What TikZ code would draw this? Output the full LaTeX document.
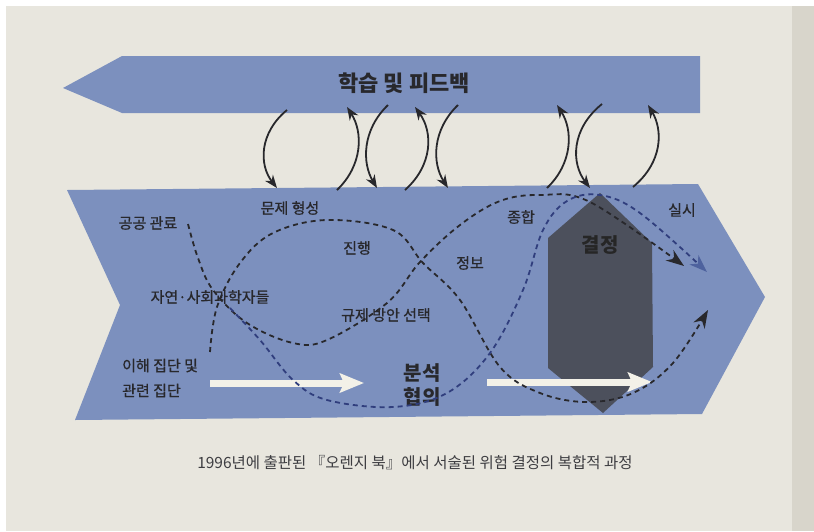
\documentclass[tikz,border=0pt]{standalone}
\usepackage{fontspec}
\setmainfont{Noto Sans CJK KR}
\newfontfamily\krmed[FakeBold=0.8]{Noto Sans CJK KR}
\usetikzlibrary{arrows.meta}
\definecolor{page}{RGB}{232,230,222}
\definecolor{pageedge}{RGB}{216,213,203}
\definecolor{bandblue}{RGB}{124,144,190}
\definecolor{hexgray}{RGB}{76,80,92}
\definecolor{ink}{RGB}{40,40,44}
\definecolor{dashblue}{RGB}{48,62,125}
\definecolor{tipblue}{RGB}{78,98,158}
\definecolor{whitearrow}{RGB}{243,241,232}
\begin{document}
\begin{tikzpicture}[x=1pt,y=-1pt,
  lbl/.style={font=\krmed\fontsize{15}{16}\selectfont, text=ink, inner sep=0pt},
  boldlbl/.style={font=\fontsize{20}{24}\selectfont\bfseries, text=ink, inner sep=0pt, align=center},
  fbarrow/.style={draw=ink, line width=1.8pt, -{Stealth[length=13pt,width=10pt]}},
  dashcurve/.style={line width=1.8pt, dash pattern=on 5pt off 4pt},
  bigarrow/.style={draw=whitearrow, line width=7pt, -{Stealth[length=24pt,width=19pt,inset=4pt]}},
  band/.style={fill=bandblue, draw=none}
]
% page
\fill[white] (0,0) rectangle (814,531);
\fill[page] (6,6) rectangle (814,531);
\fill[pageedge] (792,6) rectangle (814,531);
\useasboundingbox (0,0) rectangle (814,531);

% top band: learning and feedback
\path[band] (63,88) -- (122,56) -- (700,56) -- (700,113) -- (122,113) -- cycle;
\node[boldlbl, font=\fontsize{22}{24}\selectfont\bfseries] (learn) at (404,83) {학습 및 피드백};

% main chevron
\path[band] (67,190) -- (698,184) -- (765,297) -- (702,414) -- (75,420) -- (120,305) -- cycle;

% decision hexagon
\fill[hexgray] (600,193) -- (652,243) -- (653,367) -- (603,413) -- (548,368) -- (548,238) -- cycle;
\node[boldlbl, text=black!85] (decide) at (600,245) {결정};

% feedback arrows
\coordinate (a0) at (287,110); \coordinate (a1) at (277,188);
\coordinate (b0) at (337,190); \coordinate (b1) at (347,107);
\coordinate (c0) at (388,105); \coordinate (c1) at (377,188);
\coordinate (d0) at (405,190); \coordinate (d1) at (415,107);
\coordinate (e0) at (458,105); \coordinate (e1) at (448,188);
\coordinate (f0) at (547,188); \coordinate (f1) at (557,105);
\coordinate (g0) at (602,104); \coordinate (g1) at (590,188);
\coordinate (h0) at (633,187); \coordinate (h1) at (648,105);
\draw[fbarrow] (a0) .. controls (259,133) and (259,165) .. (a1);
\draw[fbarrow] (b0) .. controls (363,165) and (363,132) .. (b1);
\draw[fbarrow] (c0) .. controls (362,130) and (362,163) .. (c1);
\draw[fbarrow] (d0) .. controls (433,165) and (433,132) .. (d1);
\draw[fbarrow] (e0) .. controls (432,130) and (432,163) .. (e1);
\draw[fbarrow] (f0) .. controls (573,163) and (573,130) .. (f1);
\draw[fbarrow] (g0) .. controls (571,129) and (571,163) .. (g1);
\draw[fbarrow] (h0) .. controls (663,162) and (663,130) .. (h1);

% white arrows
\coordinate (w1a) at (210,383); \coordinate (w1b) at (364,383);
\coordinate (w2a) at (487,382); \coordinate (w2b) at (652,382);
\draw[bigarrow] (w1a) -- (w1b);
\draw[bigarrow] (w2a) -- (w2b);

% labels
\node[lbl] (pub) at (148,223) {공공 관료};
\node[lbl] (prob) at (290,208) {문제 형성};
\node[lbl] (prog) at (357,248) {진행};
\node[lbl] (sci) at (210,297) {자연·사회과학자들};
\node[lbl] (reg) at (386,315) {규제 방안 선택};
\node[lbl, anchor=west, align=left, font=\krmed\fontsize{15}{25}\selectfont] (stake) at (122,378) {이해 집단 및\\관련 집단};
\node[lbl] (info) at (470,263) {정보};
\node[lbl] (synth) at (521,217) {종합};
\node[lbl] (impl) at (682,210) {실시};
\node[boldlbl] (anal) at (422,385) {분석\\협의};

% dashed process curves
\draw[dashcurve, draw=ink, -{Stealth[length=18pt,width=13pt]}]
  plot[smooth, tension=0.6] coordinates {(188,224) (198,258) (213,290) (247,323) (293,343) (327,340) (387,303) (420,262) (460,225) (500,201) (540,195) (590,202) (684,266)};
\draw[dashcurve, draw=ink, -{Stealth[length=18pt,width=13pt]}]
  plot[smooth, tension=0.6] coordinates {(210,352) (217,307) (240,263) (273,233) (327,220) (393,230) (423,263) (460,300) (500,367) (540,393) (587,402) (633,393) (673,363) (708,310)};
\draw[dashcurve, draw=dashblue, -{Stealth[length=18pt,width=13pt,color=tipblue]}]
  plot[smooth, tension=0.6] coordinates {(230,308) (260,340) (293,380) (327,400) (393,407) (447,393) (490,353) (523,290) (543,230) (567,201) (600,195) (640,213) (707,272)};

% caption
\node[lbl, font=\fontsize{15.5}{17}\selectfont, text=ink!90] (cap) at (415,463) {1996년에 출판된 『오렌지 북』에서 서술된 위험 결정의 복합적 과정};
\end{tikzpicture}
\end{document}
